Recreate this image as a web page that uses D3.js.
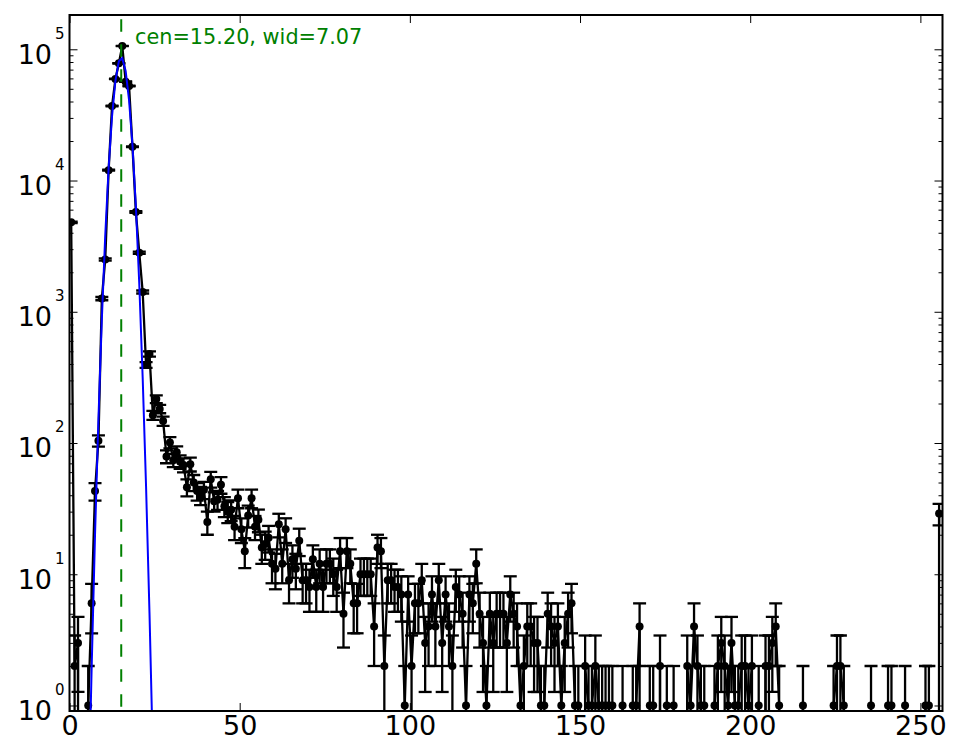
<!DOCTYPE html>
<html>
<head>
<meta charset="utf-8">
<script src="https://d3js.org/d3.v7.min.js"></script>
<style>
  body { margin: 0; background: #fff; }
  svg { display: block; font-family: "DejaVu Sans", sans-serif; }
</style>
</head>
<body>
<div id="chart"></div>
<script>
// counts per channel, bins 0..255
const counts = [
  4800, 2, 3, 0, 0, 1, 6, 43, 104, 1260,
  2500, 12000, 37000, 59400, 78200, 106000, 56600, 52500, 18100, 5760,
  2820, 1415, 393, 477, 163, 216, 182, 147, 79, 101,
  74, 85, 72, 68, 46, 69, 50, 43, 40, 44,
  25, 53, 36, 37, 48, 33, 30, 31, 23, 38,
  22, 15, 28, 38, 23, 26, 16, 17, 19, 12,
  11, 24, 12, 22, 9, 13, 11, 18, 9, 9,
  8, 13, 8, 12, 8, 12, 12, 10, 8, 15,
  5, 15, 12, 6, 6, 10, 10, 10, 10, 4,
  16, 15, 2, 9, 9, 8, 8, 7, 1, 7,
  2, 6, 6, 9, 3, 4, 7, 4, 9, 3,
  7, 4, 2, 8, 7, 5, 1, 7, 6, 12,
  5, 3, 1, 5, 3, 5, 5, 5, 3, 7,
  5, 4, 1, 2, 4, 4, 3, 3, 1, 1,
  5, 4, 3, 4, 1, 3, 5, 6, 1, 1,
  0, 2, 1, 1, 2, 1, 1, 1, 1, 1,
  0, 0, 1, 0, 0, 1, 1, 4, 0, 0,
  1, 1, 0, 2, 0, 1, 0, 1, 0, 0,
  0, 2, 1, 4, 2, 1, 1, 0, 0, 1,
  2, 3, 2, 1, 3, 1, 1, 2, 2, 1,
  2, 0, 1, 0, 2, 2, 3, 4, 1, 0,
  0, 0, 0, 0, 0, 1, 0, 0, 0, 0,
  0, 0, 0, 0, 1, 2, 2, 1, 0, 0,
  0, 0, 0, 0, 0, 1, 0, 0, 0, 0,
  1, 1, 0, 0, 0, 1, 0, 0, 0, 0,
  0, 1, 1, 0, 0, 29
];

// fitted curve, sampled at bin centres
const fitX = [5.5, 6.5, 7.5, 8.5, 9.5, 10.5, 11.5, 12.5, 13.5, 14.5,
              15.5, 16.5, 17.5, 18.5, 19.5, 20.5, 21.5, 22.5, 23.5, 24.5];
const fitY = [0.14, 1.9, 20, 152, 875, 3810, 12500, 30900, 57600, 80900,
              85600, 68300, 41000, 18600, 6350, 1630, 316, 46, 5.1, 0.42];

const fitCen = 15.2;
const fitLabel = "cen=15.20, wid=7.07";
const xTicks = [0, 50, 100, 150, 200, 250];
const yExps = [0, 1, 2, 3, 4, 5];

const w = 965;
const h = 756;
const margin = {top: 15, right: 22.5, bottom: 45, left: 69.5};
const width = w - margin.left - margin.right;
const height = h - margin.top - margin.bottom;

const x = d3.scaleLinear().domain([0, 256.5]).range([0, width]);
const y = d3.scaleLog().domain([0.908, 1.825e5]).range([height, 0]);

const svg = d3.select("#chart").append("svg")
  .attr("width", w)
  .attr("height", h);

svg.append("defs").append("clipPath")
  .attr("id", "plotclip")
  .append("rect")
  .attr("width", width)
  .attr("height", height);

const chart = svg.append("g")
  .attr("transform", "translate(" + margin.left + "," + margin.top + ")");

const plot = chart.append("g").attr("clip-path", "url(#plotclip)");

const pts = counts.map((n, i) => ({x: i + 0.5, n: n}));
const hits = pts.filter(d => d.n > 0);

// error bars (sqrt(n))
const bars = plot.append("g")
  .attr("stroke", "#000")
  .attr("stroke-width", 2.3);
hits.forEach(d => {
  const e = Math.sqrt(d.n);
  const hi = y(d.n + e);
  const lo = d.n - e > 0 ? y(d.n - e) : height + 20;
  const cx = x(d.x);
  bars.append("line").attr("x1", cx).attr("x2", cx).attr("y1", hi).attr("y2", lo);
  bars.append("line").attr("x1", cx - 6.5).attr("x2", cx + 6.5).attr("y1", hi).attr("y2", hi);
  if (d.n - e > 0) {
    bars.append("line").attr("x1", cx - 6.5).attr("x2", cx + 6.5).attr("y1", lo).attr("y2", lo);
  }
});

// data line; empty bins drop off the bottom of the log axis
const dataLine = d3.line()
  .x(d => x(d.x))
  .y(d => d.n > 0 ? y(d.n) : y(1e-60));

plot.append("path")
  .datum(pts)
  .attr("d", dataLine)
  .attr("fill", "none")
  .attr("stroke", "#000")
  .attr("stroke-width", 2.3);

plot.selectAll(".dot")
  .data(hits)
  .enter()
  .append("circle")
  .classed("dot", true)
  .attr("cx", d => x(d.x))
  .attr("cy", d => y(d.n))
  .attr("r", 4)
  .attr("fill", "#000");

// fit curve
const fitLine = d3.line()
  .x((d, i) => x(fitX[i]))
  .y(d => y(d));

plot.append("path")
  .datum(fitY)
  .attr("d", fitLine)
  .attr("fill", "none")
  .attr("stroke", "#0000ff")
  .attr("stroke-width", 2);

// centre marker
plot.append("line")
  .attr("x1", x(fitCen)).attr("x2", x(fitCen))
  .attr("y1", height).attr("y2", 0)
  .attr("stroke", "#008000")
  .attr("stroke-width", 2)
  .attr("stroke-dasharray", "12.5 12.5")
  .attr("stroke-dashoffset", 20.7);

chart.append("text")
  .attr("x", 65.5)
  .attr("y", 29.3)
  .attr("fill", "#008000")
  .style("font-size", "20.8px")
  .text(fitLabel);

// axes: ticks point inwards on all four sides
const minorVals = [];
for (let e = -1; e <= 5; e++) {
  for (let m = 2; m <= 9; m++) {
    const v = m * Math.pow(10, e);
    if (v > y.domain()[0] && v < y.domain()[1]) minorVals.push(v);
  }
}
const majorVals = yExps.map(e => Math.pow(10, e));

const noDomain = g => g.select(".domain").remove();
const tickStyle = g => g.selectAll(".tick line").attr("stroke", "#000").attr("stroke-width", 1);

chart.append("g")
  .attr("transform", "translate(0," + height + ")")
  .call(d3.axisBottom(x).tickValues(xTicks).tickSize(-8).tickPadding(5).tickFormat(d3.format("d")))
  .call(noDomain)
  .call(tickStyle)
  .call(g => g.selectAll("text")
    .attr("fill", "#000")
    .style("font-size", "27px")
    .style("font-family", "DejaVu Sans, sans-serif"));

chart.append("g")
  .call(d3.axisTop(x).tickValues(xTicks).tickSize(-8).tickFormat(""))
  .call(noDomain)
  .call(tickStyle);

chart.append("g")
  .call(d3.axisLeft(y).tickValues(majorVals).tickSize(-8).tickFormat(""))
  .call(noDomain)
  .call(tickStyle);

chart.append("g")
  .call(d3.axisLeft(y).tickValues(minorVals).tickSize(-4).tickFormat(""))
  .call(noDomain)
  .call(tickStyle);

chart.append("g")
  .attr("transform", "translate(" + width + ",0)")
  .call(d3.axisRight(y).tickValues(majorVals).tickSize(-8).tickFormat(""))
  .call(noDomain)
  .call(tickStyle);

chart.append("g")
  .attr("transform", "translate(" + width + ",0)")
  .call(d3.axisRight(y).tickValues(minorVals).tickSize(-4).tickFormat(""))
  .call(noDomain)
  .call(tickStyle);

// y labels as 10 with superscript exponent
const yLab = chart.append("g").attr("fill", "#000");
yExps.forEach(e => {
  const ty = y(Math.pow(10, e));
  yLab.append("text")
    .attr("x", -17.5)
    .attr("y", ty + 14.4)
    .attr("text-anchor", "end")
    .style("font-size", "27px")
    .text("10");
  yLab.append("text")
    .attr("x", -14.5)
    .attr("y", ty - 10.6)
    .attr("text-anchor", "start")
    .style("font-size", "15px")
    .text(e);
});

// frame
chart.append("rect")
  .attr("width", width)
  .attr("height", height)
  .attr("fill", "none")
  .attr("stroke", "#000")
  .attr("stroke-width", 2);
</script>
</body>
</html>
